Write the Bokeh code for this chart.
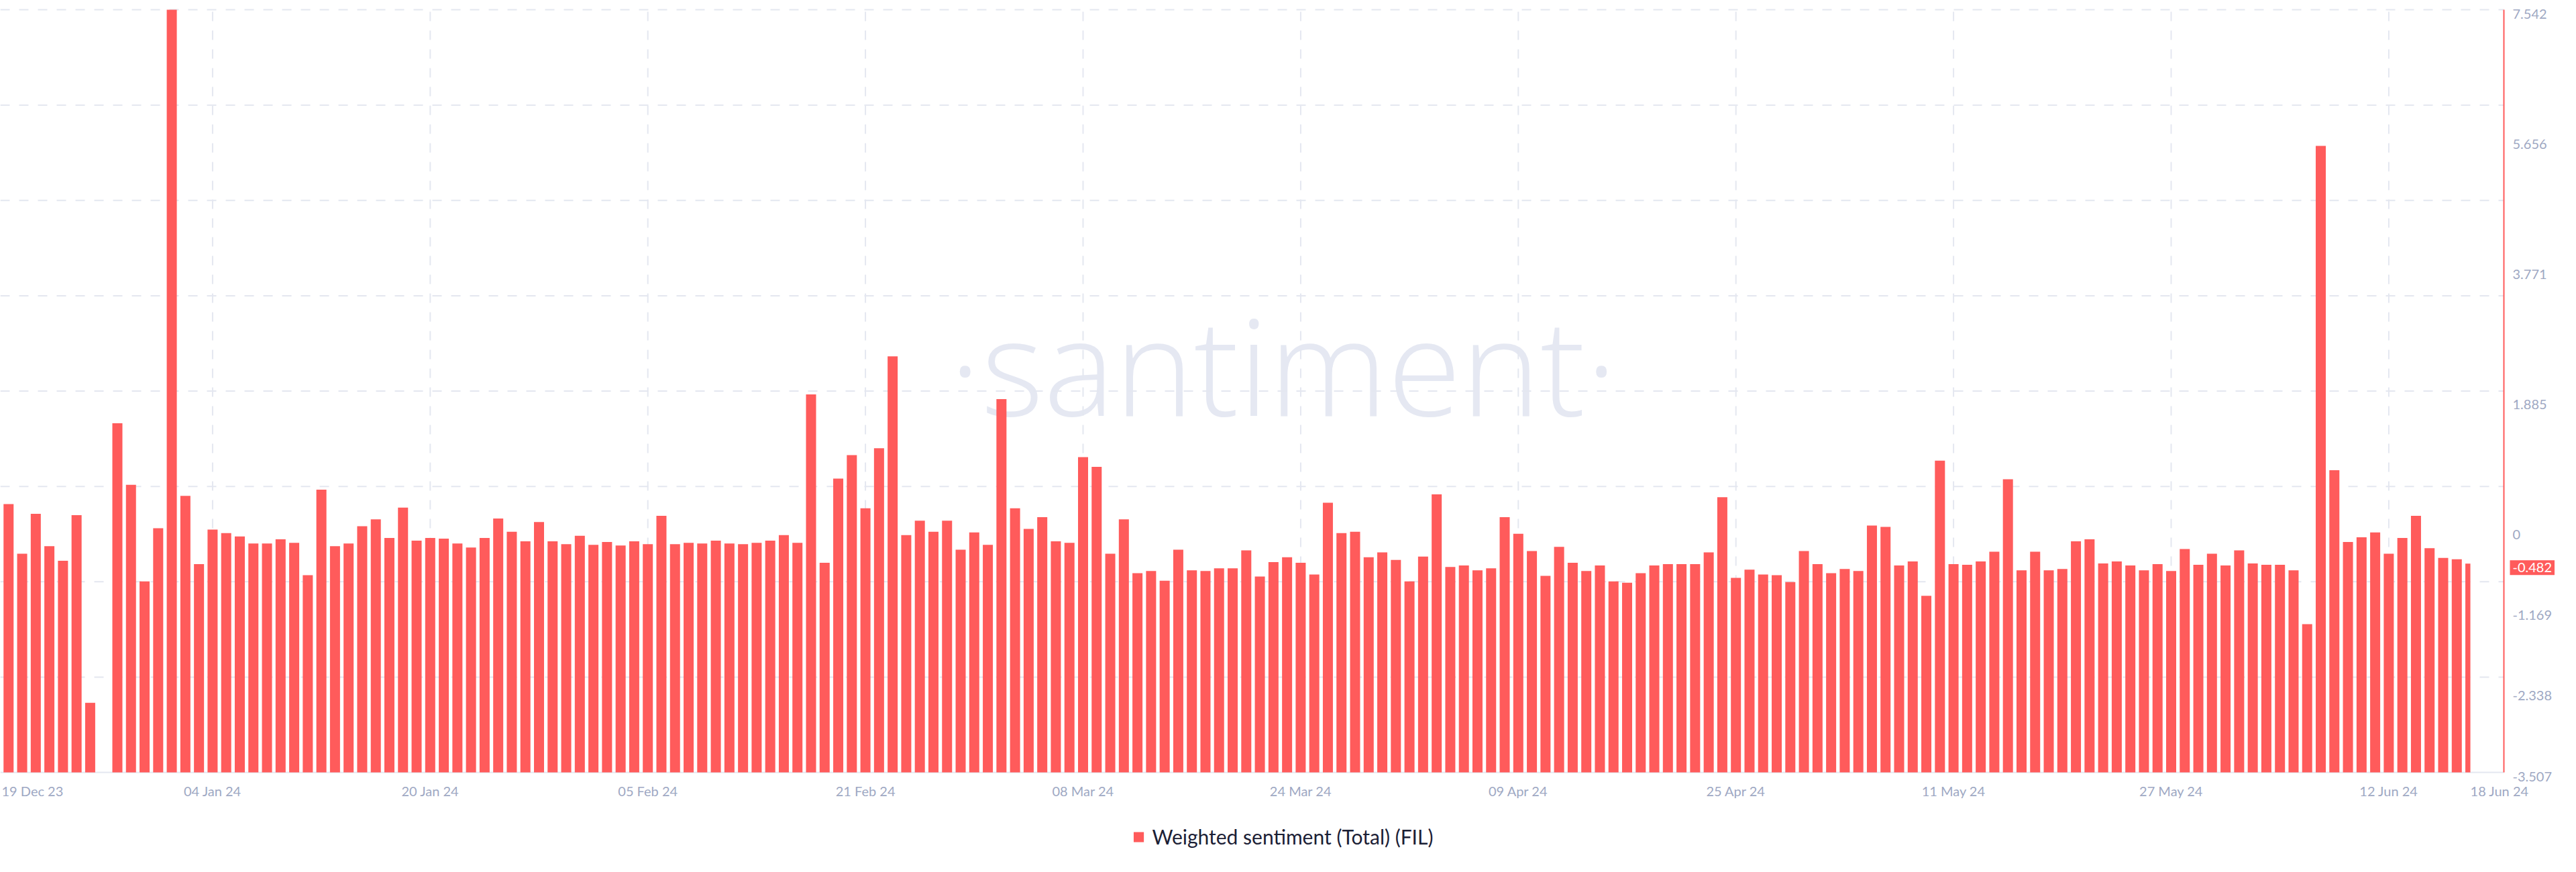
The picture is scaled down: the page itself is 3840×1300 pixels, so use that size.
import numpy as np
import pandas as pd
from bokeh.plotting import figure
from bokeh.models import Range1d, Label
from bokeh.core.properties import value
from bokeh.embed import file_html
from bokeh.resources import INLINE

# ---------------- data ----------------
start_date = "2023-12-19"
sentiment = [
    0.07, 0.38, -0.34, 0.24, -0.23, -0.44, 0.22, -2.50, -3.507, 1.55,
    0.66, -0.74, 0.03, 7.542, 0.50, -0.49, 0.01, -0.04, -0.09, -0.19,
    -0.19, -0.13, -0.18, -0.65, 0.59, -0.23, -0.19, 0.06, 0.16, -0.11,
    0.33, -0.15, -0.11, -0.12, -0.19, -0.25, -0.11, 0.17, -0.02, -0.16,
    0.12, -0.16, -0.20, -0.08, -0.21, -0.17, -0.22, -0.16, -0.20, 0.21,
    -0.20, -0.18, -0.19, -0.15, -0.19, -0.20, -0.18, -0.15, -0.07, -0.18,
    1.97, -0.47, 0.75, 1.09, 0.32, 1.19, 2.52, -0.07, 0.14, -0.02,
    0.14, -0.28, -0.03, -0.21, 1.90, 0.32, 0.02, 0.19, -0.16, -0.18,
    1.06, 0.92, -0.34, 0.16, -0.62, -0.59, -0.73, -0.28, -0.58, -0.59,
    -0.55, -0.55, -0.29, -0.67, -0.46, -0.39, -0.47, -0.64, 0.40, -0.04,
    -0.02, -0.39, -0.32, -0.43, -0.74, -0.38, 0.52, -0.53, -0.51, -0.58,
    -0.55, 0.19, -0.05, -0.30, -0.66, -0.24, -0.47, -0.59, -0.51, -0.74,
    -0.76, -0.62, -0.51, -0.49, -0.49, -0.49, -0.32, 0.48, -0.69, -0.57,
    -0.64, -0.65, -0.75, -0.30, -0.49, -0.62, -0.56, -0.59, 0.07, 0.05,
    -0.51, -0.45, -0.95, 1.01, -0.49, -0.50, -0.45, -0.31, 0.74, -0.58,
    -0.31, -0.58, -0.56, -0.16, -0.13, -0.48, -0.45, -0.51, -0.58, -0.49,
    -0.59, -0.27, -0.50, -0.34, -0.51, -0.29, -0.48, -0.50, -0.50, -0.58,
    -1.36, 5.57, 0.87, -0.17, -0.10, -0.03, -0.34, -0.11, 0.21, -0.26,
    -0.40, -0.42, -0.482,
]
y_ticks = [7.542, 5.656, 3.771, 1.885, 0, -1.169, -2.338, -3.507]
y_tick_labels = ["7.542", "5.656", "3.771", "1.885", "0", "-1.169", "-2.338", "-3.507"]
x_tick_dates = ["2024-01-04", "2024-01-20", "2024-02-05", "2024-02-21", "2024-03-08",
                "2024-03-24", "2024-04-09", "2024-04-25", "2024-05-11", "2024-05-27",
                "2024-06-12"]
x_tick_labels = ["04 Jan 24", "20 Jan 24", "05 Feb 24", "21 Feb 24", "08 Mar 24",
                 "24 Mar 24", "09 Apr 24", "25 Apr 24", "11 May 24", "27 May 24",
                 "12 Jun 24"]
first_tick = ("2023-12-19", "19 Dec 23")
last_tick = ("2024-06-18", "18 Jun 24")
latest_label = "-0.482"
series_name = "Weighted sentiment (Total) (FIL)"
watermark = "\u00b7santiment\u00b7"

# ---------------- layout (page pixels) ----------------
DAY = 86400000.0
def ms(d):
    return float(np.datetime64(d, "ms").astype("int64"))

dates = pd.date_range(start_date, periods=len(sentiment), freq="D")
x = dates.values.astype("datetime64[ms]").astype("int64").astype(float)
t0 = x[0]

RED = "#ff5b5b"
GRID = "#e4e7f0"
TICK_TXT = "#9ea8c3"

PX_PER_DAY = 20.275
FIG_W, FIG_H = 3824, 1284          # canvas on page: x 8..3832, y 8..1292
PAGE_TOP, PAGE_BOTTOM = 8, 8 + FIG_H
Y_TOP_PX, Y_BOT_PX = 22, 1159      # page rows of ymax / ymin
TXT_SHIFT = 6                      # px: svg "middle" baseline sits a little high
ymin, ymax = min(sentiment), max(sentiment)
ppu = (Y_BOT_PX - Y_TOP_PX) / (ymax - ymin)
shift = TXT_SHIFT / ppu

def px_x(px):                      # page column (19 Dec at 0) -> datetime ms
    return t0 + px / PX_PER_DAY * DAY

def py(px):                        # page row -> data value
    return ymax - (px - Y_TOP_PX) / ppu

x_start = px_x(8)
x_end = px_x(8 + FIG_W)
x_axisline = px_x(3740)

half = 0.37 * DAY
left = x - half
right = x + half
right[-1] = x[-1]

p = figure(width=FIG_W, height=FIG_H, x_axis_location=None, y_axis_location=None,
           x_range=Range1d(x_start, x_end), y_range=Range1d(py(PAGE_BOTTOM), py(PAGE_TOP)),
           output_backend="svg", toolbar_location=None,
           min_border_left=0, min_border_right=0, min_border_top=0, min_border_bottom=0)
p.outline_line_color = None
p.background_fill_color = "white"
p.border_fill_color = "white"
p.xgrid.visible = False
p.ygrid.visible = False

# watermark
WM_SIZE = 200
p.add_layout(Label(x=px_x(1946), y=py(632 - 0.41 * WM_SIZE), text=watermark,
                   text_align="center", text_baseline="alphabetic", text_font="Open Sans",
                   text_font_size=f"{WM_SIZE}px", text_color="#e5e8f2", level="underlay"))

# grid lines (dashed)
gy = np.linspace(ymin, ymax, 9)[1:]
p.segment(x0=[x_start] * len(gy), x1=[x_axisline] * len(gy), y0=gy, y1=gy,
          line_color=GRID, line_width=2, line_dash="14 14")
gx = [ms(first_tick[0])] + [ms(d) for d in x_tick_dates]
p.segment(x0=gx, x1=gx, y0=[ymin] * len(gx), y1=[ymax] * len(gx),
          line_color=GRID, line_width=2, line_dash="14 14")
p.segment(x0=[x_start], x1=[x_axisline], y0=[ymin], y1=[ymin], line_color=GRID, line_width=2)

# bars
p.quad(left=left, right=right, top=sentiment, bottom=ymin, fill_color=RED,
       line_color=None, legend_label=series_name)

# value axis (right)
p.segment(x0=[x_axisline], x1=[x_axisline], y0=[ymin], y1=[ymax], line_color=RED, line_width=2)
p.text(x=[px_x(3753)] * len(y_ticks), y=[t - shift for t in y_ticks], text=y_tick_labels,
       text_align="left", text_baseline="middle", text_font=value("Lato"),
       text_font_size="20px", text_color=TICK_TXT)
p.add_layout(Label(x=px_x(3749), y=sentiment[-1] - shift, text=latest_label,
                   text_align="left", text_baseline="middle", text_font="Lato",
                   text_font_size="20px", text_color="white",
                   background_fill_color=RED, padding=4))

# date axis labels
ylab = py(1180) - shift
p.text(x=[ms(d) for d in x_tick_dates], y=[ylab] * len(x_tick_dates), text=x_tick_labels,
       text_align="center", text_baseline="middle", text_font=value("Lato"),
       text_font_size="20px", text_color=TICK_TXT)
p.text(x=[px_x(10), ms(last_tick[0])], y=[ylab, ylab], text=[first_tick[1], last_tick[1]],
       text_align="left", text_baseline="middle", text_font=value("Lato"),
       text_font_size="20px", text_color=TICK_TXT)

# legend
lg = p.legend[0]
lg.location = "bottom_center"
lg.orientation = "horizontal"
lg.margin = 19
lg.padding = 0
lg.border_line_color = None
lg.background_fill_alpha = 0
lg.label_text_font = "Lato"
lg.label_text_font_size = "30px"
lg.label_text_color = "#1b2035"
lg.label_height = 33
lg.glyph_width = 19
lg.glyph_height = 19
lg.label_standoff = 11

open("out.html", "w").write(file_html(p, INLINE))
